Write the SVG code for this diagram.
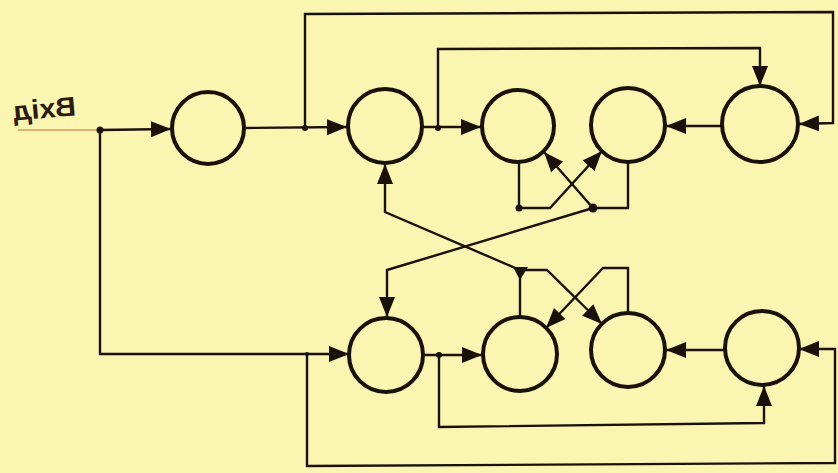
<svg xmlns="http://www.w3.org/2000/svg" width="838" height="473" viewBox="0 0 838 473">
<defs>
<marker id="ah" markerUnits="userSpaceOnUse" markerWidth="22" markerHeight="18" refX="20" refY="8" orient="auto">
<path d="M0,0 L20,8 L0,16 z" fill="#1a120a"/>
</marker>
</defs>
<style>
.bg{fill:#fbf5b2}
.node{fill:none;stroke:#1a120a;stroke-width:4}
.wire{fill:none;stroke:#1a120a;stroke-width:2.4;stroke-linejoin:miter}
.arrow{marker-end:url(#ah)}
.dot{fill:#1a120a}
.lbl{font-family:"Liberation Sans",Arial,sans-serif;font-weight:bold;font-size:27px;fill:#2a1a10}
</style>
<rect class="bg" x="0" y="0" width="838" height="473"/>

<g id="label">
<g transform="rotate(-5,44,110) translate(76,0) scale(-1,1)">
<text class="lbl" x="0" y="118" textLength="63" lengthAdjust="spacingAndGlyphs">Вхід</text>
</g>
</g>

<g id="connectors">
<path d="M18,130 L100,130" fill="none" stroke="#d39a5c" stroke-width="1.6"/>
<path class="wire arrow" d="M100,130 L171,129"/>
<path class="wire arrow" d="M100,130 L100,354 L349,354"/>
<path class="wire arrow" d="M244,128 L347,127"/>
<path class="wire arrow" d="M305,128 L305,14 L833,12 L833,123 L799,124"/>
<path class="wire arrow" d="M422,127 L481,127"/>
<path class="wire arrow" d="M438,128 L438,49 L760,48 L760,86"/>
<path class="wire arrow" d="M723,126 L666,126"/>
<path class="wire arrow" d="M519,163 L519,208 L550,208 L602,151"/>
<path class="wire arrow" d="M628,162 L628,208 L593,208 L544,152"/>
<path class="wire arrow" d="M520,270 L385,212 L385,164"/>
<path class="wire arrow" d="M593,208 L387,270 L387,317"/>
<path class="wire arrow" d="M520,317 L520,270 L547,270 L602,324"/>
<path class="wire arrow" d="M628,313 L628,268 L603,268 L546,328"/>
<path class="wire arrow" d="M422,355 L482,355"/>
<path class="wire arrow" d="M307,354 L307,466 L835,463 L835,349 L799,349"/>
<path class="wire arrow" d="M439,355 L439,427 L764,423 L764,386"/>
<path class="wire arrow" d="M725,350 L666,350"/>
<circle class="dot" cx="100" cy="130" r="3.5"/>
<circle class="dot" cx="305" cy="128" r="3"/>
<circle class="dot" cx="438" cy="128" r="3"/>
<circle class="dot" cx="519" cy="208" r="3.5"/>
<circle class="dot" cx="593" cy="208" r="4.5"/>
<circle class="dot" cx="307" cy="354" r="2"/>
<circle class="dot" cx="439" cy="355" r="3"/>
<path class="dot" d="M513,267 L528,267 L520,280 z"/>
</g>

<g id="n0"><circle class="node" cx="208" cy="128" r="36"/></g>
<g id="n1t"><circle class="node" cx="385" cy="126" r="37"/></g>
<g id="n2t"><circle class="node" cx="518" cy="126" r="36"/></g>
<g id="n3t"><circle class="node" cx="628" cy="125" r="37"/></g>
<g id="n4t"><circle class="node" cx="760" cy="124" r="38"/></g>
<g id="n1b"><circle class="node" cx="386" cy="355" r="37"/></g>
<g id="n2b"><circle class="node" cx="520" cy="354" r="37"/></g>
<g id="n3b"><circle class="node" cx="628" cy="350" r="37"/></g>
<g id="n4b"><circle class="node" cx="762" cy="348" r="37"/></g>
</svg>
